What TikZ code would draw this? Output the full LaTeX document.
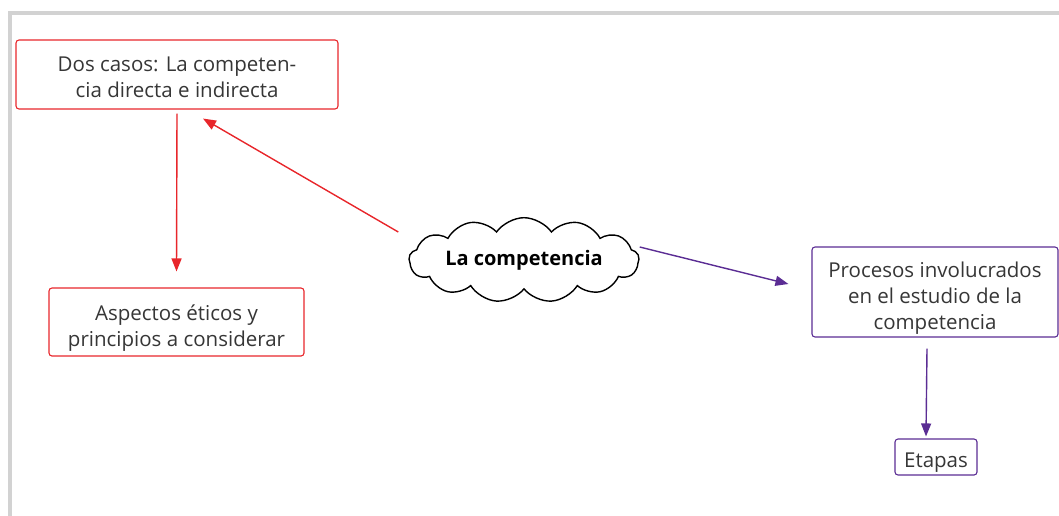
\documentclass[tikz,border=0pt]{standalone}
\usepackage{fontspec}
\setmainfont{Open Sans}[Ligatures=NoCommon]
\usetikzlibrary{shapes.symbols,arrows.meta,calc}
\definecolor{cred}{HTML}{E8262B}
\definecolor{cpurple}{HTML}{5B2D94}
\definecolor{ctext}{HTML}{363636}
\definecolor{cframe}{HTML}{D2D2D2}
% invisible strut on a first line, to lower the text in its box
\newcommand{\firstlift}[1]{\rule{0pt}{#1}}
\begin{document}
\begin{tikzpicture}[x=1pt,y=-1pt,
  box/.style={draw, rounded corners=3pt, line width=1.1pt, align=center,
    text=ctext, font=\fontsize{20.5}{25.8}\selectfont, inner sep=0pt},
  redbox/.style={box, draw=cred},
  purplebox/.style={box, draw=cpurple},
  link/.style={line width=1.4pt, -{Triangle[length=13pt,width=10pt]}},
  redlink/.style={link, draw=cred, fill=cred},
  purplelink/.style={link, draw=cpurple, fill=cpurple}]
\useasboundingbox (0,0) rectangle (1059,515);
% frame
\draw[cframe, line width=4pt] (10,517) -- (10,13) -- (1061,13);
% nodes
\node[redbox, minimum width=322pt, minimum height=69pt] (cases) at (177,74.5)
  {\firstlift{20.5pt}Dos casos: La competen-\\cia directa e indirecta};
\node[redbox, minimum width=255pt, minimum height=68pt] (ethics) at (176.5,322)
  {\firstlift{28pt}Aspectos éticos y\\principios a considerar};
\node[purplebox, minimum width=246pt, minimum height=90pt] (process) at (935,292)
  {\firstlift{27.5pt}Procesos involucrados\\en el estudio de la\\competencia};
\node[purplebox, minimum width=82pt, minimum height=36pt] (stages) at (936,457)
  {\firstlift{25pt}Etapas};
\node[cloud, draw, line width=1.4pt, cloud puffs=13, cloud puff arc=110,
  aspect=3.8, minimum width=230pt, minimum height=62pt, inner sep=0pt,
  font=\fontsize{20}{22}\selectfont\bfseries] (topic) at (524,260) {La competencia};
% connectors
\draw[redlink] ([shift={(0,4)}]cases.south) -- ([shift={(0,-16)}]ethics.north);
\draw[redlink] ([shift={(-10,-28)}]topic.west) -- ([shift={(26,9)}]cases.south);
\draw[purplelink] ([shift={(0,-13)}]topic.east) -- ([shift={(-23,-8)}]process.west);
\draw[purplelink] ([shift={(-8,11)}]process.south) -- ([shift={(-10,-2)}]stages.north);
\end{tikzpicture}
\end{document}
